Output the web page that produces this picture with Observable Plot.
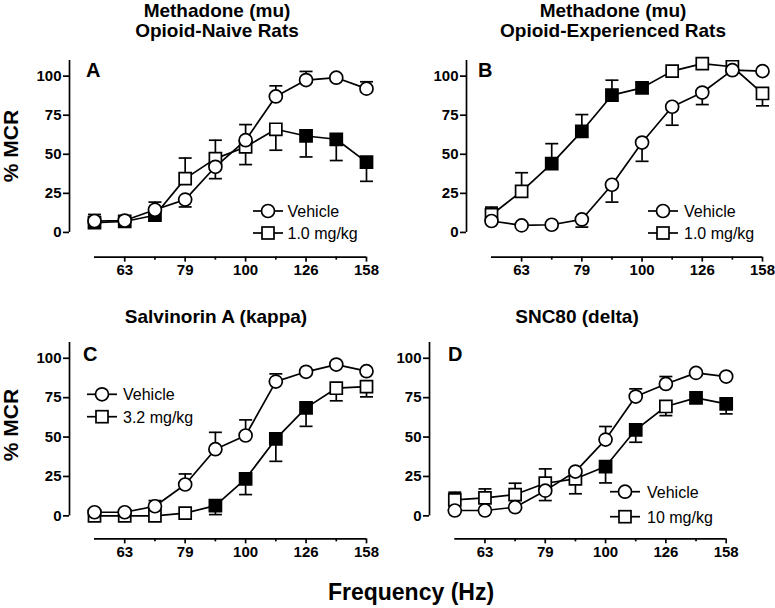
<!DOCTYPE html>
<html><head><meta charset="utf-8">
<script src="https://cdn.jsdelivr.net/npm/d3@7"></script>
<script src="https://cdn.jsdelivr.net/npm/@observablehq/plot@0.6"></script>
<style>
body{margin:0;background:#fff;}
#root{position:relative;width:775px;height:608px;overflow:hidden;font-family:"Liberation Sans",Arial,sans-serif;}
#root > svg{position:absolute;}
</style></head><body><div id="root"></div>
<script>
// ---- Data ----
const freqs = ["56","63","71","79","89","100","112","126","141","158"];
const labeledFreqs = ["63","79","100","126","158"];
const yTicks = [0, 25, 50, 75, 100];

// Panel A: Methadone, opioid-naive
const aVehicle    = [7.3, 7.6, 14.5, 21, 42, 59, 87, 97.5, 99, 92];
const aVehicleErr = [11.5, null, 19.4, 16.3, 34.4, 69, 93.8, 103, null, 96.4];
const aDose       = [6.3, 7, 11, 34.4, 47.2, 54.7, 66, 61.7, 59.6, 45];
const aDoseErr    = [null, null, null, 47.6, 59, 43.4, 52.6, 48.3, 46, 32.7];
const aDoseFilled = [1, 1, 1, 0, 0, 0, 0, 1, 1, 1];

// Panel B: Methadone, opioid-experienced
const bVehicle    = [7.3, 4.5, 4.9, 8.3, 30.5, 57.5, 80.4, 89.5, 103.8, 103.2];
const bVehicleErr = [null, null, null, 3.4, 19.4, 45.5, 68.6, 81.8, null, null];
const bDose       = [11.3, 26.3, 44, 64.7, 87.8, 92.5, 103.2, 108, 106, 88.9];
const bDoseErr    = [16.2, 38.2, 56.8, 75.4, 97.4, 96, null, null, null, 81];
const bDoseFilled = [0, 0, 1, 1, 1, 1, 0, 0, 0, 0];

// Panel C: Salvinorin A
const cVehicle    = [2.3, 2.3, 6.1, 19.9, 42.3, 51, 85.2, 91.4, 96, 91.8];
const cVehicleErr = [null, null, 9.7, 26.6, 53, 60.9, 90.1, null, null, null];
const cDose       = [0, 0, 0, 1.7, 6.5, 23.5, 48.8, 68.5, 81, 82];
const cDoseErr    = [null, null, null, null, 0.8, 13.5, 34.6, 56.8, 73, 75.5];
const cDoseFilled = [0, 0, 0, 0, 1, 1, 1, 1, 0, 0];

// Panel D: SNC80
const dVehicle    = [3.4, 3.4, 5.5, 16, 28.1, 48.4, 75.7, 83.7, 90.7, 88.4];
const dVehicleErr = [null, null, null, 9.7, null, 56.7, 80.6, 88.4, null, null];
const dDose       = [10.1, 11.4, 13.5, 20.7, 23.5, 31.3, 54.6, 69.4, 74.9, 71.1];
const dDoseErr    = [15, 17.1, 20.7, 29.8, 14, 20.9, 46.7, 63.6, null, 64.7];
const dDoseFilled = [0, 0, 0, 0, 0, 1, 1, 0, 1, 1];

const panelTitles = [["Methadone (mu)", "Opioid-Naive Rats"], ["Methadone (mu)", "Opioid-Experienced Rats"], ["Salvinorin A (kappa)"], ["SNC80 (delta)"]];
const panelLetters = ["A", "B", "C", "D"];
const doseLabels = ["1.0 mg/kg", "1.0 mg/kg", "3.2 mg/kg", "10 mg/kg"];
const vehicleLabel = "Vehicle";
const yLabel = "% MCR";
const xLabel = "Frequency (Hz)";

// ---- Layout (pixel geometry only) ----
const layouts = [
  {yAxisX: 69,  x0: 94,    x9: 366,   y0: 232.3, y100: 76,    xAxisY: 257,   title: {cx: 217, by: 17.3}, letter: {x: 86, y: 77},  legend: {cx: 268, r1: 211, r2: 233, tx: 287.5}},
  {yAxisX: 466, x0: 491,   x9: 762,   y0: 232.3, y100: 76,    xAxisY: 257,   title: {cx: 613, by: 17.3}, letter: {x: 478, y: 77}, legend: {cx: 663, r1: 211, r2: 233, tx: 684}},
  {yAxisX: 69,  x0: 94,    x9: 366,   y0: 515.3, y100: 357.7, xAxisY: 538.3, title: {cx: 216, by: 322.7}, letter: {x: 83, y: 361}, legend: {cx: 102, r1: 394.3, r2: 416.7, tx: 123}},
  {yAxisX: 429, x0: 454.3, x9: 725.7, y0: 515.3, y100: 357.7, xAxisY: 538.3, title: {cx: 577, by: 322.7}, letter: {x: 448, y: 361}, legend: {cx: 625, r1: 491.7, r2: 516.7, tx: 647}}
];

const series = [
  [aVehicle, aVehicleErr, aDose, aDoseErr, aDoseFilled],
  [bVehicle, bVehicleErr, bDose, bDoseErr, bDoseFilled],
  [cVehicle, cVehicleErr, cDose, cDoseErr, cDoseFilled],
  [dVehicle, dVehicleErr, dDose, dDoseErr, dDoseFilled]
];

const SW = 1.7;
const capSymbol = {draw(ctx) { ctx.moveTo(-6.5, 0); ctx.lineTo(6.5, 0); }};
const majorIdx = freqs.map((f, i) => i).filter(i => labeledFreqs.includes(freqs[i]));
const minorIdx = freqs.map((f, i) => i).filter(i => i > 0 && !labeledFreqs.includes(freqs[i]));

const root = document.getElementById("root");
const mL = 45, mR = 24, mT = 8, mB = 32;

series.forEach(([veh, vehErr, dose, doseErr, filled], p) => {
  const L = layouts[p];
  const step = (L.x9 - L.x0) / (freqs.length - 1);
  const xMin = -(L.x0 - L.yAxisX) / step;
  const ppu = (L.y0 - L.y100) / 100;
  const yMin = -(L.xAxisY - L.y0) / ppu;
  const yMax = 110;
  const frameTop = L.y0 - yMax * ppu;
  const width = mL + (L.x9 - L.yAxisX) + mR;
  const height = mT + (L.xAxisY - frameTop) + mB;

  const vRows = veh.map((v, i) => ({i, v, e: vehErr[i]}));
  const dRows = dose.map((v, i) => ({i, v, e: doseErr[i], filled: filled[i]}));
  const vE = vRows.filter(d => d.e != null);
  const dE = dRows.filter(d => d.e != null);

  const chart = Plot.plot({
    width, height,
    marginLeft: mL, marginRight: mR, marginTop: mT, marginBottom: mB,
    style: {fontFamily: "'Liberation Sans', Arial, sans-serif", background: "transparent", overflow: "visible"},
    x: {domain: [xMin, freqs.length - 1], label: null},
    y: {domain: [yMin, yMax], label: null},
    marks: [
      Plot.ruleX([xMin], {y1: 0, y2: yMax, stroke: "black", strokeWidth: SW}),
      Plot.ruleY([yMin], {x1: 0, x2: freqs.length - 1, stroke: "black", strokeWidth: SW}),
      Plot.axisY({ticks: yTicks, tickSize: 6, tickPadding: 2, fontSize: 15, fontWeight: "bold", strokeWidth: SW, label: null}),
      Plot.axisX({ticks: majorIdx, tickFormat: i => freqs[i], tickSize: 5, tickPadding: 2, fontSize: 15, fontWeight: "bold", strokeWidth: SW, label: null}),
      Plot.axisX({ticks: minorIdx, tickFormat: () => "", tickSize: 3, strokeWidth: SW, label: null}),
      Plot.line(dRows, {x: "i", y: "v", stroke: "black", strokeWidth: SW}),
      Plot.line(vRows, {x: "i", y: "v", stroke: "black", strokeWidth: SW}),
      Plot.ruleX(dE, {x: "i", y1: "v", y2: "e", stroke: "black", strokeWidth: SW}),
      Plot.dot(dE, {x: "i", y: "e", symbol: capSymbol, fill: "none", stroke: "black", strokeWidth: SW}),
      Plot.ruleX(vE, {x: "i", y1: "v", y2: "e", stroke: "black", strokeWidth: SW}),
      Plot.dot(vE, {x: "i", y: "e", symbol: capSymbol, fill: "none", stroke: "black", strokeWidth: SW}),
      Plot.dot(dRows.filter(d => !d.filled), {x: "i", y: "v", symbol: "square", r: 6.8, fill: "white", stroke: "black", strokeWidth: SW}),
      Plot.dot(dRows.filter(d => d.filled), {x: "i", y: "v", symbol: "square", r: 6.8, fill: "black", stroke: "black", strokeWidth: SW}),
      Plot.dot(vRows, {x: "i", y: "v", symbol: "circle", r: 6.5, fill: "white", stroke: "black", strokeWidth: SW})
    ]
  });
  chart.style.position = "absolute";
  chart.style.left = (L.yAxisX - mL) + "px";
  chart.style.top = (frameTop - mT) + "px";
  root.appendChild(chart);
});

// ---- Overlay text (titles, letters, legends, axis labels) ----
const ov = d3.select(root).append("svg")
  .attr("width", 775).attr("height", 608)
  .style("left", "0px").style("top", "0px")
  .style("font-family", "'Liberation Sans', Arial, sans-serif");

layouts.forEach((L, p) => {
  panelTitles[p].forEach((t, k) => {
    ov.append("text").attr("x", L.title.cx).attr("y", L.title.by + k * 20)
      .attr("text-anchor", "middle").attr("font-size", 19).attr("font-weight", "bold").text(t);
  });
  ov.append("text").attr("x", L.letter.x).attr("y", L.letter.y)
    .attr("font-size", 20).attr("font-weight", "bold").text(panelLetters[p]);
  const lg = L.legend;
  [lg.r1, lg.r2].forEach((ry, k) => {
    ov.append("line").attr("x1", lg.cx - 15).attr("x2", lg.cx + 15).attr("y1", ry).attr("y2", ry)
      .attr("stroke", "black").attr("stroke-width", SW);
    if (k === 0) {
      ov.append("circle").attr("cx", lg.cx).attr("cy", ry).attr("r", 6.5)
        .attr("fill", "white").attr("stroke", "black").attr("stroke-width", SW);
    } else {
      ov.append("rect").attr("x", lg.cx - 6).attr("y", ry - 6).attr("width", 12).attr("height", 12)
        .attr("fill", "white").attr("stroke", "black").attr("stroke-width", SW);
    }
    ov.append("text").attr("x", lg.tx).attr("y", ry + 6).attr("font-size", 16)
      .text(k === 0 ? vehicleLabel : doseLabels[p]);
  });
});

[146, 425].forEach(cy => {
  ov.append("text").attr("transform", `translate(18.3,${cy}) rotate(-90)`)
    .attr("text-anchor", "middle").attr("font-size", 21).attr("font-weight", "bold").text(yLabel);
});
ov.append("text").attr("x", 411).attr("y", 600).attr("text-anchor", "middle")
  .attr("font-size", 23).attr("font-weight", "bold").text(xLabel);
</script>
</body></html>
